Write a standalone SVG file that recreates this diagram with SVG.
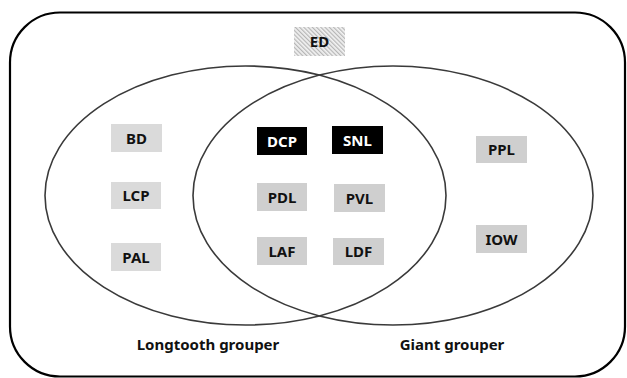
<svg xmlns="http://www.w3.org/2000/svg" width="627" height="378" viewBox="0 0 627 378">
<style>
.lbl{font-family:"Noto Sans","Open Sans","Liberation Sans",sans-serif;font-weight:bold;font-size:15px;text-anchor:middle;fill:#111}
.cap{font-family:"Noto Sans","Open Sans","Liberation Sans",sans-serif;font-weight:bold;font-size:15px;text-anchor:middle;fill:#111}
.g1{fill:#dadada}
.g2{fill:#cfcfcf}
.bk{fill:#000}
.wt{fill:#fff}
.ell{fill:none;stroke:#3a3a3a;stroke-width:1.6}
</style>
<defs>
<pattern id="hatch" width="3" height="3" patternUnits="userSpaceOnUse" patternTransform="rotate(-45)">
<rect width="3" height="3" fill="#f2f2f2"/>
<line x1="0.7" y1="0" x2="0.7" y2="3" stroke="#a0a0a0" stroke-width="0.9"/>
</pattern>
</defs>
<rect x="0" y="0" width="627" height="378" fill="#fff"/>
<g id="frame">
<rect x="10" y="12.5" width="615" height="364" rx="50" ry="50" fill="none" stroke="#000" stroke-width="2.2"/>
</g>
<g id="connectors">
<ellipse id="longtooth-set" class="ell" cx="245.5" cy="195.5" rx="200.5" ry="129.5"/>
<ellipse id="giant-set" class="ell" cx="393" cy="195.5" rx="200" ry="129.5"/>
</g>
<g id="ED"><rect x="294" y="27" width="51" height="29" fill="url(#hatch)"/><text class="lbl" x="319.5" y="47">ED</text></g>
<g id="BD"><rect class="g1" x="111" y="124" width="51" height="28"/><text class="lbl" x="136.5" y="143.5">BD</text></g>
<g id="LCP"><rect class="g1" x="111" y="182" width="50" height="27"/><text class="lbl" x="136" y="201">LCP</text></g>
<g id="PAL"><rect class="g1" x="111" y="243" width="50" height="28"/><text class="lbl" x="136" y="262.5">PAL</text></g>
<g id="DCP"><rect class="bk" x="257" y="127" width="50" height="28"/><text class="lbl wt" x="282" y="146.5">DCP</text></g>
<g id="SNL"><rect class="bk" x="332" y="126" width="51" height="28"/><text class="lbl wt" x="357.5" y="145.5">SNL</text></g>
<g id="PDL"><rect class="g2" x="257" y="183" width="50" height="28"/><text class="lbl" x="282" y="202.5">PDL</text></g>
<g id="PVL"><rect class="g2" x="334" y="184" width="51" height="28"/><text class="lbl" x="359.5" y="203.5">PVL</text></g>
<g id="LAF"><rect class="g2" x="257" y="237" width="50" height="28"/><text class="lbl" x="282" y="256.5">LAF</text></g>
<g id="LDF"><rect class="g2" x="333" y="238" width="51" height="27"/><text class="lbl" x="358.5" y="257">LDF</text></g>
<g id="PPL"><rect class="g2" x="476" y="136" width="51" height="27"/><text class="lbl" x="501.5" y="155">PPL</text></g>
<g id="IOW"><rect class="g2" x="476" y="225" width="51" height="28"/><text class="lbl" x="501.5" y="244.5">IOW</text></g>
<g id="label-longtooth"><text class="cap" x="208" y="350">Longtooth grouper</text></g>
<g id="label-giant"><text class="cap" x="452" y="350">Giant grouper</text></g>
</svg>
